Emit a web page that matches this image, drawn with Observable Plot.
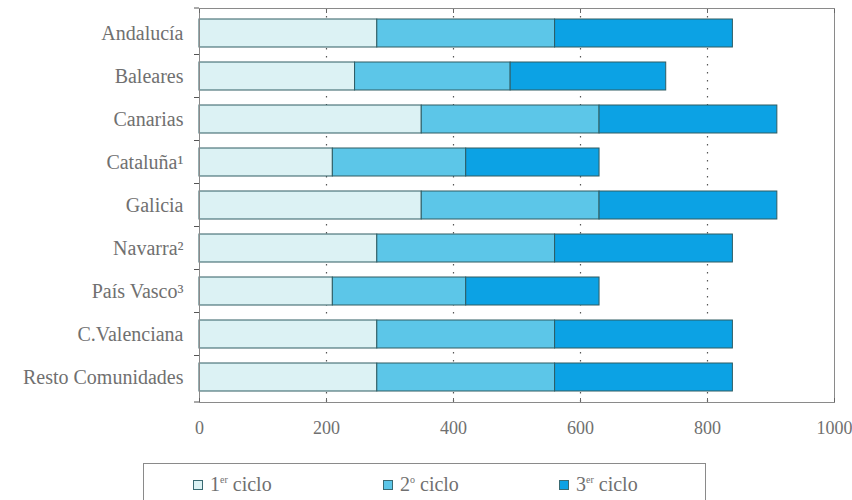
<!DOCTYPE html>
<html>
<head>
<meta charset="utf-8">
<script src="https://cdn.jsdelivr.net/npm/d3@7"></script>
<script src="https://cdn.jsdelivr.net/npm/@observablehq/plot@0.6"></script>
<style>
  body { margin: 0; background: #fff; width: 852px; height: 500px; overflow: hidden; position: relative; font-family: "Liberation Serif", "DejaVu Serif", serif; }
  #chart { position: absolute; left: 0; top: 0; }
  #legend { position: absolute; left: 143px; top: 463px; width: 563px; height: 50px; border: 1px solid #8a8a8a; box-sizing: border-box; color: #707070; font-size: 20px; }
  .item { position: absolute; top: 9px; display: flex; align-items: center; white-space: nowrap; }
  .sw { width: 8px; height: 8px; border: 1px solid #3a6a72; margin-right: 7px; }
  sup { font-size: 10px; }
</style>
</head>
<body>
<div id="chart"></div>
<div id="legend"></div>
<script>
const categories = ["Andalucía", "Baleares", "Canarias", "Cataluña¹", "Galicia", "Navarra²", "País Vasco³", "C.Valenciana", "Resto Comunidades"];
const ciclo1 = [280, 245, 350, 210, 350, 280, 210, 280, 280];
const ciclo2 = [280, 245, 280, 210, 280, 280, 210, 280, 280];
const ciclo3 = [280, 245, 280, 210, 280, 280, 210, 280, 280];
const series = ["1er ciclo", "2º ciclo", "3er ciclo"];
const seriesHtml = ["1<sup>er</sup> ciclo", "2<sup>o</sup> ciclo", "3<sup>er</sup> ciclo"];
const colors = ["#dcf2f4", "#5cc6e8", "#0ca2e4"];
const xTicks = [0, 200, 400, 600, 800, 1000];

const values = [ciclo1, ciclo2, ciclo3];
const data = [];
categories.forEach((c, i) => series.forEach((s, j) => data.push({cat: c, serie: s, v: values[j][i]})));

function bandTicks(index, scales, vals, dims) {
  const y = scales.y;
  const x0 = dims.marginLeft;
  const ys = categories.map(c => y(c));
  const step = ys[1] - ys[0];
  const bw = (y.bandwidth ? y.bandwidth() : step * 0.66);
  const pos = [dims.marginTop];
  for (let i = 0; i < ys.length - 1; i++) pos.push((ys[i] + bw + ys[i + 1]) / 2);
  pos.push(dims.height - dims.marginBottom);
  const g = d3.create("svg:g").attr("stroke", "#555").attr("stroke-width", 1);
  pos.forEach(p => g.append("line").attr("x1", x0 - 5).attr("x2", x0).attr("y1", p).attr("y2", p));
  return g.node();
}

const plot = Plot.plot({
  width: 852,
  height: 440,
  marginLeft: 199,
  marginRight: 18,
  marginTop: 8,
  marginBottom: 38,
  style: {fontFamily: "'Liberation Serif', serif", background: "transparent"},
  x: {domain: [0, 1000], label: null},
  y: {domain: categories, paddingInner: 0.34, paddingOuter: 0.18, label: null},
  color: {domain: series, range: colors},
  marks: [
    Plot.gridX([200, 400, 600, 800], {stroke: "#444", strokeOpacity: 0.9, strokeDasharray: "1.5,6.5", strokeWidth: 1.2}),
    Plot.barX(data, Plot.stackX({y: "cat", x: "v", fill: "serie", stroke: "#2f5c63", strokeWidth: 1, order: series})),
    Plot.frame({stroke: "#8a8a8a"}),
    Plot.axisX({ticks: xTicks, anchor: "bottom", tickSize: -4, tickPadding: 23, tickFormat: "d", label: null, fontSize: 18, color: "#707070", stroke: "#666", style: {letterSpacing: "-0.4px"}}),
    Plot.axisX({ticks: xTicks, anchor: "top", tickSize: -4, label: null, tickFormat: () => "", stroke: "#666"}),
    Plot.axisY({tickSize: 0, tickPadding: 16, fontSize: 20, color: "#707070", label: null, style: {letterSpacing: "0.3px"}}),
    bandTicks
  ]
});
document.getElementById("chart").appendChild(plot);

const legend = document.getElementById("legend");
const lefts = [49, 239, 415];
series.forEach((s, j) => {
  const it = document.createElement("div");
  it.className = "item";
  it.style.left = lefts[j] + "px";
  it.innerHTML = `<span class="sw" style="background:${colors[j]}"></span><span>${seriesHtml[j]}</span>`;
  legend.appendChild(it);
});
</script>
</body>
</html>
